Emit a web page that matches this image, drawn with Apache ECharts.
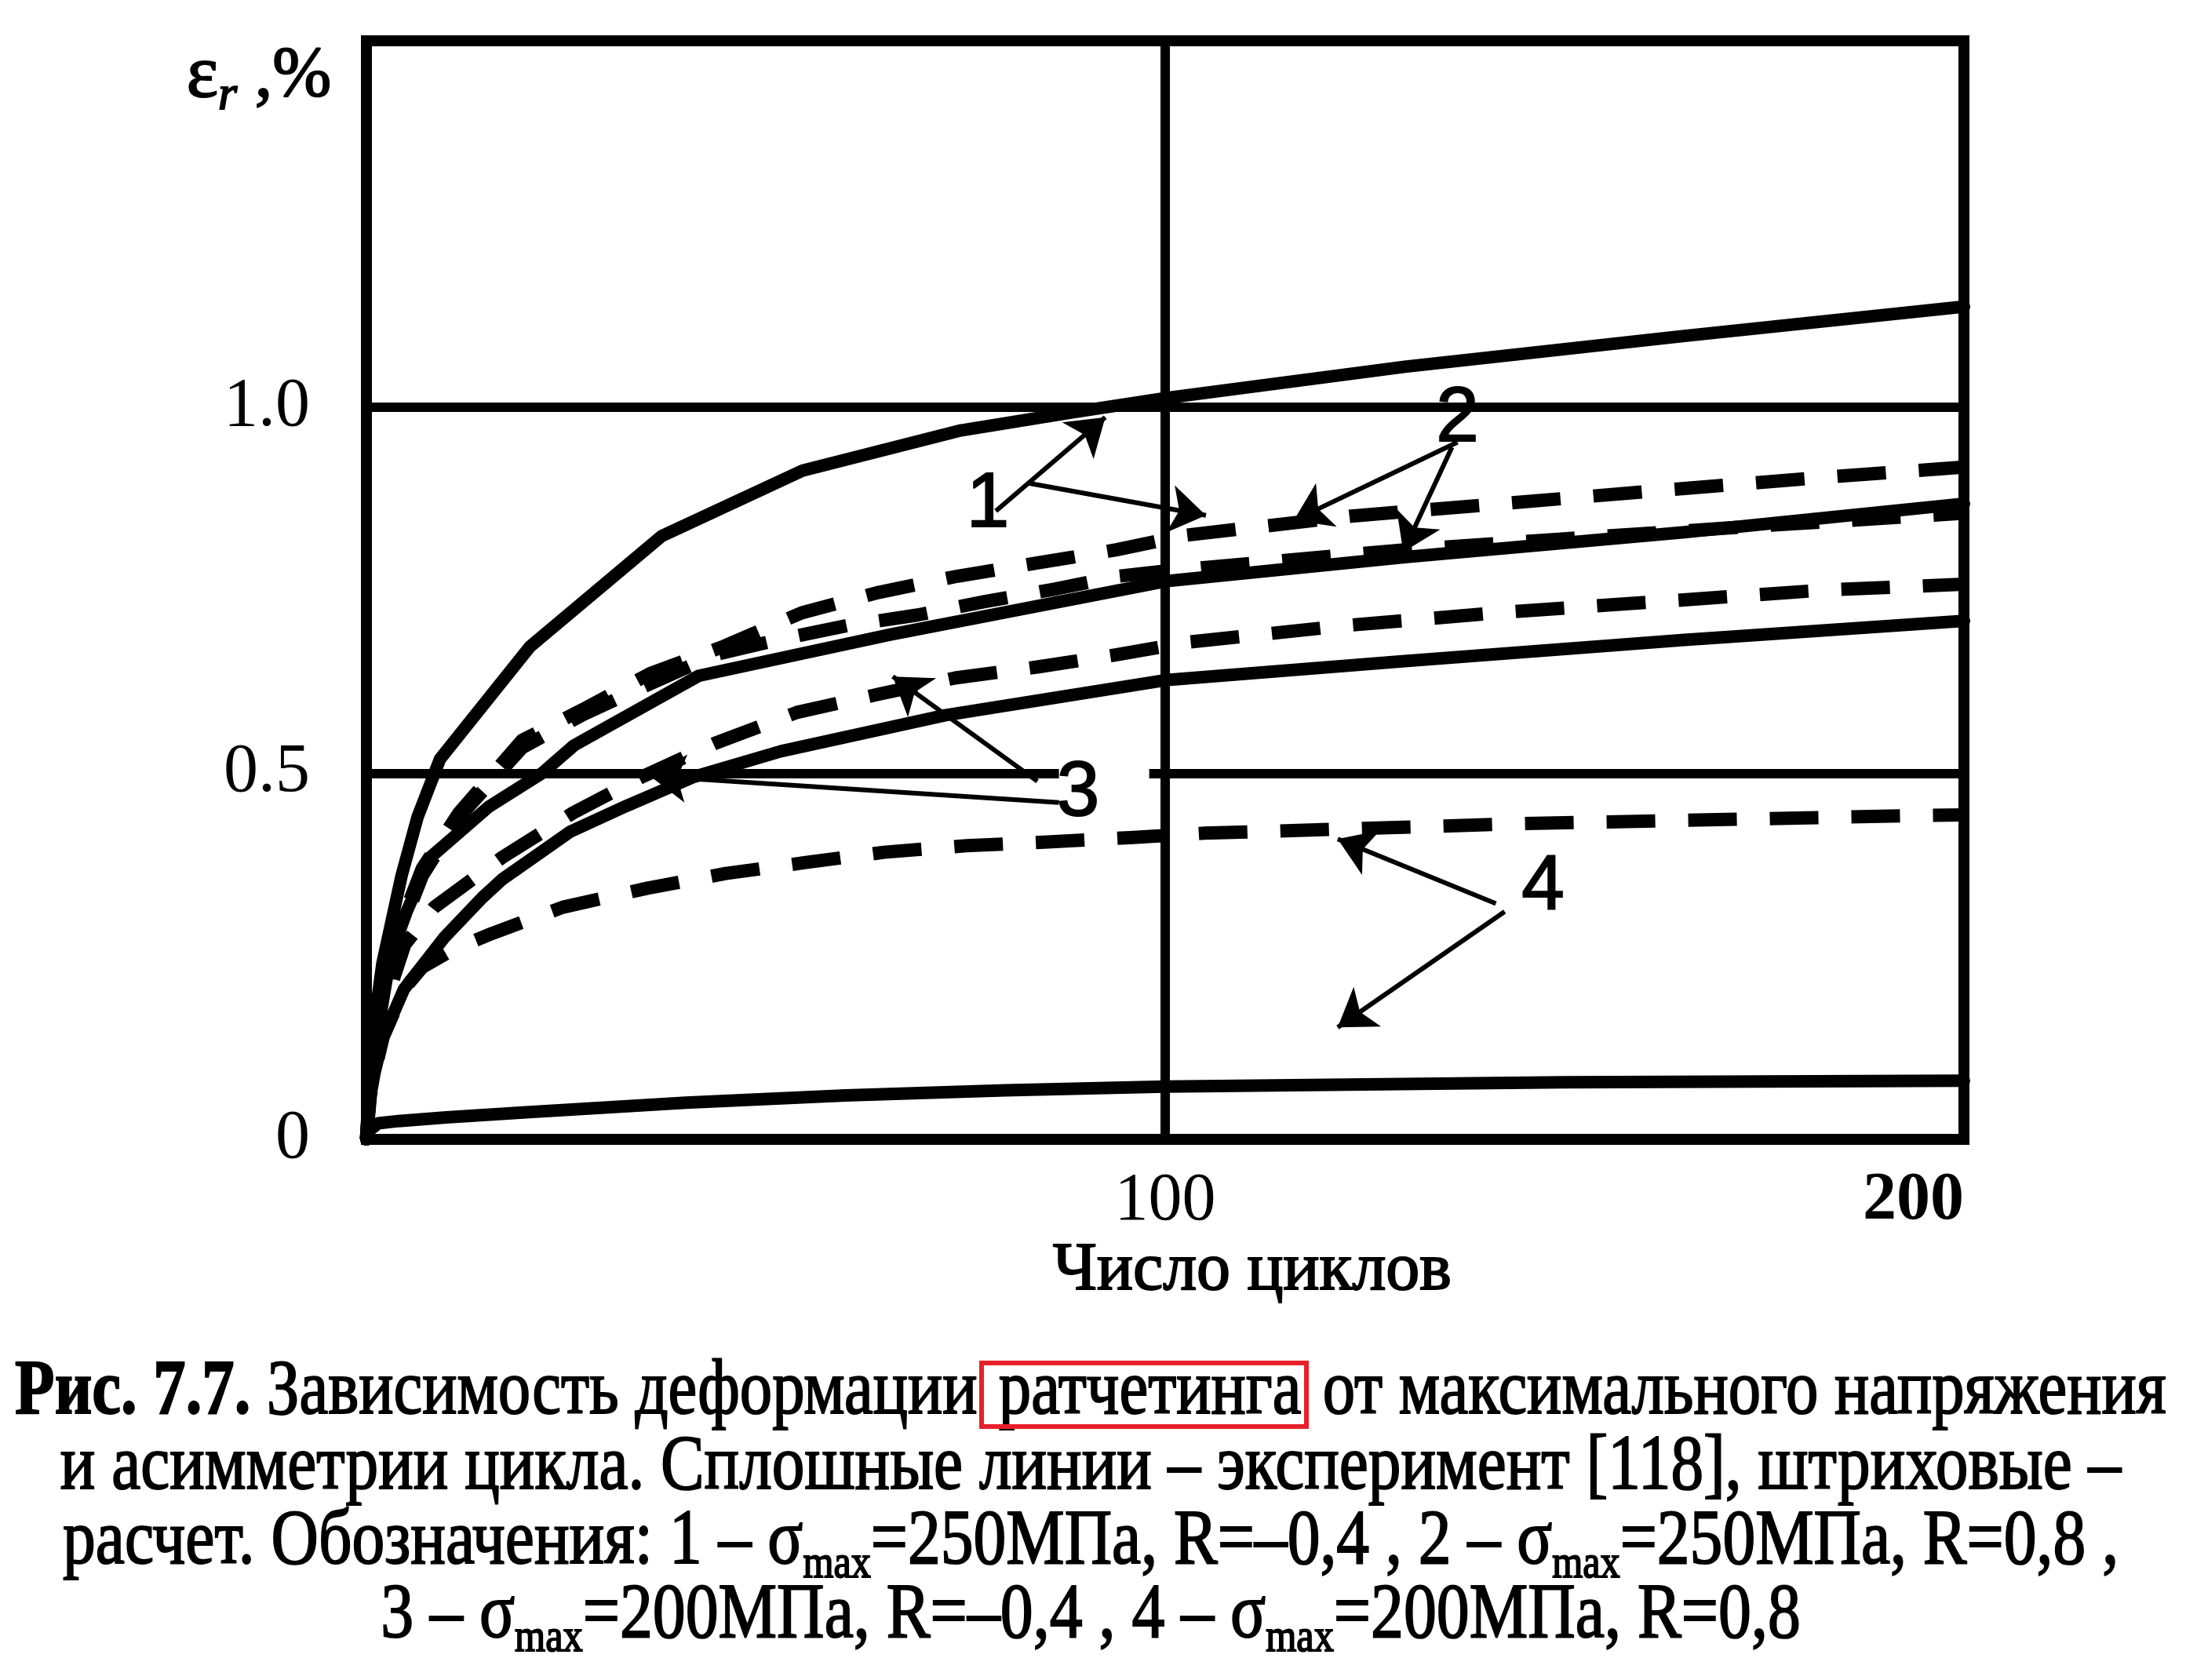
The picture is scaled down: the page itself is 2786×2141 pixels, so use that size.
<!DOCTYPE html>
<html>
<head>
<meta charset="utf-8">
<script src="https://cdn.jsdelivr.net/npm/echarts@6/dist/echarts.min.js"></script>
<style>
    html, body { margin: 0; padding: 0; background: #fff; }
    #myChart { width: 2786px; height: 2141px; }
</style>
</head>
<body>
<div id="myChart"></div>
<script>
    // [число циклов, деформация ратчетинга %]
    var exp1 = [[0, 0], [0.4, 0.09], [1, 0.16], [2, 0.24], [4.4, 0.36], [6.4, 0.44], [9.2, 0.519], [20.5, 0.673],
        [37, 0.824], [54.6, 0.913], [74.4, 0.968], [88, 0.992], [100, 1.012], [130, 1.055], [165, 1.097], [200, 1.137]];
    var exp2 = [[0, 0], [0.5, 0.07], [1, 0.12], [3, 0.25], [5, 0.31], [8, 0.385], [15.3, 0.454], [22, 0.5], [26, 0.538],
        [41.6, 0.633], [65.5, 0.689], [100, 0.762], [130, 0.795], [165, 0.829], [200, 0.868]];
    var exp3 = [[0, 0], [0.5, 0.06], [1, 0.09], [2.1, 0.14], [4.7, 0.205], [9.7, 0.275], [14.5, 0.33], [17, 0.355],
        [25.5, 0.42], [32.5, 0.455], [41, 0.495], [51.9, 0.53], [72.4, 0.579], [100, 0.627], [130, 0.653], [165, 0.682], [200, 0.708]];
    var exp4 = [[0, 0], [0.3, 0.012], [1.5, 0.022], [4, 0.025], [10, 0.03], [20, 0.037], [40, 0.05], [60, 0.06],
        [80, 0.067], [100, 0.072], [150, 0.078], [200, 0.08]];

    var calc1 = [[0, 0], [0.5, 0.09], [1, 0.14], [2, 0.2], [4.5, 0.3], [7, 0.37], [11.6, 0.446], [19.5, 0.545], [27.1, 0.587],
        [35.5, 0.636], [44.7, 0.673], [54.5, 0.719], [64.2, 0.747], [74, 0.769], [84, 0.787], [93.9, 0.805], [102.7, 0.825],
        [123.3, 0.851], [143.2, 0.869], [163, 0.887], [182.5, 0.904], [200, 0.918]];
    var calc2 = [[0, 0], [0.5, 0.085], [1, 0.13], [2, 0.19], [4.5, 0.29], [7, 0.36], [11.6, 0.44], [19.5, 0.535], [27.1, 0.58],
        [35.5, 0.622], [43.7, 0.662], [51.9, 0.683], [60.4, 0.702], [69, 0.716], [77.3, 0.734], [86, 0.751], [94.2, 0.769],
        [100, 0.776], [130, 0.805], [150, 0.82], [175, 0.838], [200, 0.855]];
    var calc3 = [[0, 0], [0.5, 0.07], [1, 0.11], [2.5, 0.19], [4.8, 0.266], [8.5, 0.317], [17, 0.385], [25.9, 0.446],
        [34.5, 0.495], [43.7, 0.541], [53.9, 0.583], [64.2, 0.608], [73.7, 0.63], [84, 0.645], [93.5, 0.661], [103, 0.679],
        [123, 0.702], [142.8, 0.72], [162.7, 0.735], [182.5, 0.75], [200, 0.758]];
    var calc4 = [[0, 0], [0.5, 0.06], [1, 0.09], [2.1, 0.14], [4.7, 0.205], [7, 0.235], [11, 0.26], [15.7, 0.281],
        [24.6, 0.317], [35.2, 0.343], [45, 0.363], [55, 0.378], [64.8, 0.392], [75.1, 0.401], [85.3, 0.406], [95.6, 0.412],
        [104.8, 0.418], [144.5, 0.431], [193.8, 0.442], [200, 0.443]];

    // линии сетки (в координатах осей), у 0.5 разрыв под цифрой 3
    var gridSegments = [[[0, 1], [200, 1]], [[0, 0.5], [86.7, 0.5]], [[98, 0.5], [200, 0.5]], [[100, 0], [100, 1.5]]];

    // выноски: [откуда, куда]
    var arrows = [
        [[78.8, 0.858], [92.5, 0.986]],
        [[82.9, 0.896], [105.1, 0.852]],
        [[136.6, 0.952], [116.1, 0.845]],
        [[135.9, 0.945], [129.8, 0.802]],
        [[84, 0.489], [65.9, 0.632]],
        [[86.7, 0.46], [35.5, 0.496]],
        [[141.4, 0.322], [121.6, 0.41]],
        [[142.5, 0.311], [121.6, 0.153]]
    ];
    var noteNames = ['1', '2', '3', '4'];
    var notePos = [[77.8, 0.866], [136.6, 0.983], [89.1, 0.471], [147.3, 0.344]];

    var xTicks = [0, 100, 200];
    var yTickLabels = {0: '0', 0.5: '0.5', 1: '1.0', 1.5: ''};

    var captionLines = [
        '{b|Рис. 7.7.} Зависимость деформации {box|ратчетинга} от максимального напряжения',
        'и асимметрии цикла. Сплошные линии – эксперимент [118], штриховые –',
        'расчет. Обозначения: 1 – σ{s|max}=250МПа, R=–0,4 , 2 – σ{s|max}=250МПа, R=0,8 ,',
        '3 – σ{s|max}=200МПа, R=–0,4 , 4 – σ{s|max}=200МПа, R=0,8'
    ];
    var captionY = [1775, 1871, 1966, 2060];
    var captionScale = [0.827, 0.833, 0.836, 0.838];

    var serif = '"Liberation Serif", "Times New Roman", serif';

    function solid (data) {
        return {
            type: 'line', data: data, symbol: 'none', smooth: false, z: 4,
            lineStyle: {color: '#000', width: 16, cap: 'round', join: 'round'}
        };
    }
    function dashed (data) {
        return {
            type: 'line', data: data, symbol: 'none', smooth: false, z: 4,
            lineStyle: {color: '#000', width: 17, type: [62, 42], cap: 'butt', join: 'round'}
        };
    }

    var captionGraphics = captionLines.map(function (t, i) {
        return {
            type: 'text', x: 1390, y: captionY[i], scaleX: captionScale[i], scaleY: 1, z: 10,
            style: {
                text: t, fontFamily: serif, fontSize: 100, fill: '#000',
                stroke: '#000', lineWidth: 2,
                align: 'center', verticalAlign: 'middle', textAlign: 'center', textVerticalAlign: 'middle',
                rich: {
                    b: {fontFamily: serif, fontSize: 100, fontWeight: 'bold'},
                    box: {fontFamily: serif, fontSize: 100, padding: [0, 8, 0, 8]},
                    s: {fontFamily: serif, fontSize: 60, verticalAlign: 'top', padding: [56, 0, 0, 0]}
                }
            }
        };
    });
    // красная рамка вокруг слова «ратчетинга»
    captionGraphics.push({
        type: 'rect', z: 11,
        shape: {x: 1251, y: 1737, width: 414, height: 81},
        style: {fill: 'none', stroke: '#e8202a', lineWidth: 6}
    });

    var c = document.getElementById('myChart');
    var myChart = echarts.init(c);
    myChart.setOption({
        backgroundColor: '#fff',
        animation: false,
        grid: {
            left: 467, right: 283, top: 52, bottom: 689,
            show: true, borderColor: '#000', borderWidth: 14, backgroundColor: 'transparent'
        },
        xAxis: {
            type: 'value', min: xTicks[0], max: xTicks[xTicks.length - 1], interval: 100,
            axisLine: {show: false}, axisTick: {show: false}, splitLine: {show: false},
            axisLabel: {
                margin: 36, color: '#000', fontFamily: serif, fontSize: 86,
                showMinLabel: false, alignMaxLabel: 'right',
                formatter: function (v) { return v === 200 ? '{bold|200}' : String(v); },
                rich: {bold: {fontFamily: serif, fontSize: 86, fontWeight: 'bold', color: '#000'}}
            }
        },
        yAxis: {
            type: 'value', min: 0, max: 1.5, interval: 0.5,
            axisLine: {show: false}, axisTick: {show: false}, splitLine: {show: false},
            axisLabel: {
                margin: 72, color: '#000', fontFamily: serif, fontSize: 88, padding: [14, 0, 0, 0],
                formatter: function (v) { return yTickLabels[v] !== undefined ? yTickLabels[v] : ''; }
            }
        },
        graphic: [
            {
                type: 'text', x: 330, y: 98, z: 10,
                style: {
                    text: '{e|ε}{r|r} ,%', fontFamily: serif, fontSize: 90, fill: '#000',
                    stroke: '#000', lineWidth: 2,
                    align: 'center', verticalAlign: 'middle', textAlign: 'center', textVerticalAlign: 'middle',
                    rich: {
                        e: {fontFamily: serif, fontSize: 96},
                        r: {fontFamily: serif, fontSize: 62, fontStyle: 'italic', verticalAlign: 'top', padding: [50, 0, 0, 0]}
                    }
                }
            },
            {
                type: 'text', x: 1596, y: 1620, z: 10,
                style: {
                    text: 'Число циклов', fontFamily: serif, fontSize: 86, fill: '#000',
                    stroke: '#000', lineWidth: 2,
                    align: 'center', verticalAlign: 'middle', textAlign: 'center', textVerticalAlign: 'middle'
                }
            }
        ].concat(captionGraphics),
        series: [
            {
                type: 'line', data: [], symbol: 'none', z: 2,
                markLine: {
                    silent: true, animation: false, symbol: ['none', 'none'],
                    lineStyle: {color: '#000', width: 12, type: 'solid'},
                    label: {show: false},
                    data: gridSegments.map(function (s) { return [{coord: s[0]}, {coord: s[1]}]; })
                }
            },
            solid(exp1), solid(exp2), solid(exp3), solid(exp4),
            dashed(calc1), dashed(calc2), dashed(calc3), dashed(calc4),
            {
                type: 'scatter', z: 6, symbolSize: 1, itemStyle: {color: 'transparent', opacity: 1},
                data: notePos.map(function (p, i) { return {name: noteNames[i], value: p}; }),
                label: {
                    show: true, position: 'inside', formatter: '{b}', color: '#000', opacity: 1,
                    fontFamily: '"Liberation Sans", Arial, sans-serif', fontSize: 98,
                    textBorderColor: '#000', textBorderWidth: 2
                },
                markLine: {
                    silent: true, animation: false, symbol: ['none', 'arrow'],
                    symbolSize: 46,
                    itemStyle: {color: '#000', opacity: 1},
                    lineStyle: {color: '#000', width: 6, type: 'solid', opacity: 1},
                    label: {show: false},
                    data: arrows.map(function (a) { return [{coord: a[0]}, {coord: a[1]}]; })
                }
            }
        ]
    });
</script>
</body>
</html>
